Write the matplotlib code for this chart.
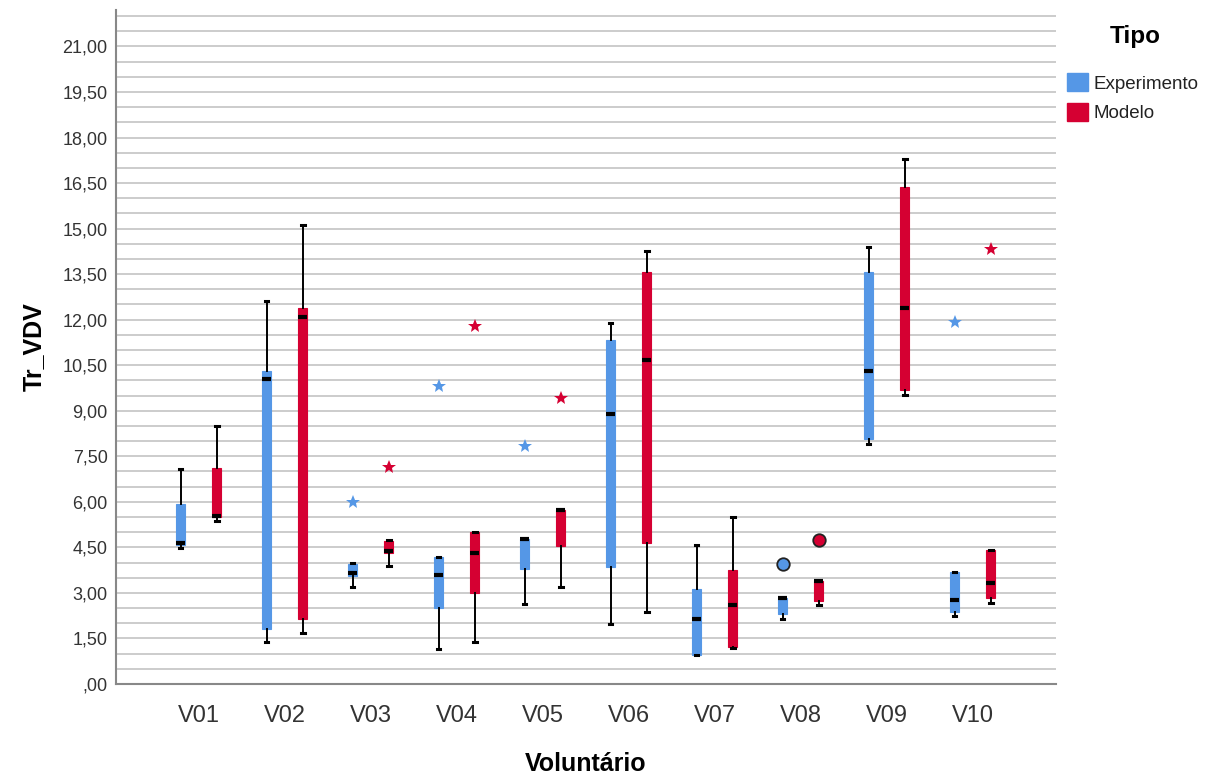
import numpy as np
import matplotlib
matplotlib.use('Agg')
import matplotlib.pyplot as plt
from matplotlib.patches import Patch
from matplotlib.ticker import MultipleLocator, FuncFormatter

plt.rcParams['font.family'] = ['Liberation Sans', 'DejaVu Sans']

#categories and box statistics
voluntarios = ['V01', 'V02', 'V03', 'V04', 'V05', 'V06', 'V07', 'V08', 'V09', 'V10']

exp_lo  = [4.49, 1.39, 3.21, 1.16, 2.64, 1.97, 0.95, 2.15, 7.91, 2.23]
exp_q1  = [4.58, 1.80, 3.56, 2.50, 3.78, 3.86, 0.97, 2.29, 8.08, 2.38]
exp_med = [4.64, 10.06, 3.67, 3.59, 4.78, 8.88, 2.15, 2.83, 10.31, 2.77]
exp_q3  = [5.92, 10.30, 3.96, 4.18, 4.78, 11.32, 3.12, 2.83, 13.58, 3.69]
exp_hi  = [7.08, 12.63, 3.98, 4.18, 4.78, 11.89, 4.58, 2.83, 14.39, 3.69]

mod_lo  = [5.38, 1.69, 3.89, 1.38, 3.18, 2.37, 1.20, 2.60, 9.53, 2.68]
mod_q1  = [5.50, 2.13, 4.31, 3.01, 4.53, 4.66, 1.22, 2.75, 9.68, 2.83]
mod_med = [5.55, 12.09, 4.39, 4.31, 5.74, 10.67, 2.60, 3.40, 12.39, 3.34]
mod_q3  = [7.11, 12.39, 4.71, 5.01, 5.74, 13.58, 3.74, 3.40, 16.36, 4.43]
mod_hi  = [8.51, 15.13, 4.75, 5.01, 5.74, 14.27, 5.51, 3.40, 17.29, 4.43]

#extreme values (stars) and outliers (circles): category index, value
exp_ext_idx = [2, 3, 4, 9]
exp_ext_val = [5.98, 9.80, 7.85, 11.91]
mod_ext_idx = [2, 3, 4, 9]
mod_ext_val = [7.16, 11.78, 9.43, 14.33]
exp_out_idx = [7]
exp_out_val = [3.95]
mod_out_idx = [7]
mod_out_val = [4.75]

BLUE = '#5597e6'
RED = '#d50032'
off = 0.21

def make_stats(lo, q1, med, q3, hi):
    return [dict(whislo=a, q1=b, med=c, q3=d, whishi=e, fliers=[])
            for a, b, c, d, e in zip(lo, q1, med, q3, hi)]

fig = plt.figure(figsize=(12.24, 7.78), dpi=100)
ax = fig.add_axes([116/1224, 1 - 684/778, 940/1224, 674/778])

x = np.arange(len(voluntarios))
for stats, pos, col in [(make_stats(exp_lo, exp_q1, exp_med, exp_q3, exp_hi), x - off, BLUE),
                        (make_stats(mod_lo, mod_q1, mod_med, mod_q3, mod_hi), x + off, RED)]:
    ax.bxp(stats, positions=pos, widths=0.1, capwidths=0.045, patch_artist=True,
           showfliers=False,
           boxprops=dict(facecolor=col, edgecolor=col, linewidth=0.8),
           whiskerprops=dict(color='black', linewidth=1.4),
           capprops=dict(color='black', linewidth=2.2),
           medianprops=dict(color='black', linewidth=3.0, solid_capstyle='butt'))

#extremes and outliers
ax.plot(np.array(exp_ext_idx) - off, exp_ext_val, ls='none', marker='*', ms=10, color=BLUE, mew=0)
ax.plot(np.array(mod_ext_idx) + off, mod_ext_val, ls='none', marker='*', ms=10, color=RED, mew=0)
ax.plot(np.array(exp_out_idx) - off, exp_out_val, ls='none', marker='o', ms=9,
        mfc=BLUE, mec='#222222', mew=1.3)
ax.plot(np.array(mod_out_idx) + off, mod_out_val, ls='none', marker='o', ms=9,
        mfc=RED, mec='#222222', mew=1.3)

ax.set_xlim(-0.96, 9.97)
ax.set_ylim(0, 22.2)
ax.set_xticks(x)
ax.set_xticklabels(voluntarios, fontsize=17, color='#333333')

def fmt(v, _):
    s = f'{v:.2f}'.replace('.', ',')
    return s[1:] if s.startswith('0,') else s

ax.yaxis.set_major_locator(MultipleLocator(1.5))
ax.yaxis.set_major_formatter(FuncFormatter(fmt))
ax.yaxis.set_minor_locator(MultipleLocator(0.5))
ax.tick_params(axis='y', which='both', length=0, labelsize=13, labelcolor='#333333', pad=6)
ax.tick_params(axis='x', length=0, pad=15)

#gridlines every 0.5
for g in np.arange(0.5, 22.01, 0.5):
    ax.axhline(g, color='#c8c8c8', linewidth=1.3, zorder=0)

for s in ['top', 'right']:
    ax.spines[s].set_visible(False)
for s in ['left', 'bottom']:
    ax.spines[s].set_color('#888888')
    ax.spines[s].set_linewidth(1.5)

ax.set_xlabel('Voluntário', fontsize=18, fontweight='bold', labelpad=18)
ax.set_ylabel('Tr_VDV', fontsize=18, fontweight='bold', labelpad=12)

#legend
fig.text(1135/1224, 1 - 37/778, 'Tipo', fontsize=17.5, fontweight='bold', ha='center', va='center')
handles = [Patch(facecolor=BLUE, edgecolor=BLUE), Patch(facecolor=RED, edgecolor=RED)]
fig.legend(handles, ['Experimento', 'Modelo'], loc='upper left',
           bbox_to_anchor=(1058/1224, 1 - 64/778), frameon=False, fontsize=13.5,
           handlelength=1.1, handleheight=1.1, handletextpad=0.3, labelspacing=0.55,
           borderpad=0, labelcolor='#222222')

fig.savefig('out.png', dpi=100)
